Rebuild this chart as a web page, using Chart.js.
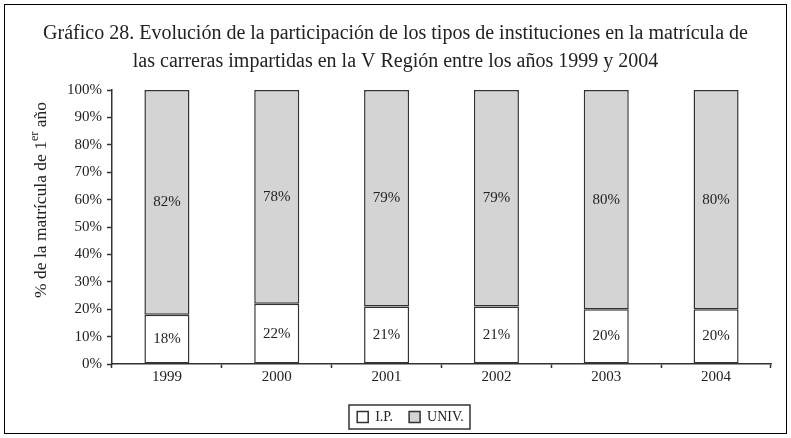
<!DOCTYPE html>
<html>
<head>
<meta charset="utf-8">
<script src="https://cdn.jsdelivr.net/npm/chart.js@4.4.1/dist/chart.umd.min.js"></script>
<style>
  body { margin: 0; background: #fff; }
  #wrap { position: relative; width: 791px; height: 438px; }
</style>
</head>
<body>
<div id="wrap"><canvas id="chart"></canvas></div>
<script>
const years = ["1999", "2000", "2001", "2002", "2003", "2004"];
const ipValues = [18, 22, 21, 21, 20, 20];
const univValues = [82, 78, 79, 79, 80, 80];
const titleLines = [
  "Gráfico 28. Evolución de la participación de los tipos de instituciones en la matrícula de",
  "las carreras impartidas en la V Región entre los años 1999 y 2004"
];

const serif = "'Liberation Serif', 'DejaVu Serif', serif";
const ink = "#222";

// nudge title and legend to where the original has them
const blockShift = {
  id: "blockShift",
  afterLayout(chart) {
    const lg = chart.legend;
    lg.left += 5; lg.right += 5;
    lg.top += 8; lg.bottom += 8;
    const tb = chart.titleBlock;
    tb.left -= 10; tb.right -= 10;
  }
};

// frame round the whole picture + box round the legend
const framePlugin = {
  id: "frame",
  afterDraw(chart) {
    const ctx = chart.ctx;
    ctx.save();
    ctx.strokeStyle = "#000";
    ctx.lineWidth = 1;
    ctx.strokeRect(4.5, 4.5, 782, 429);

    const boxes = chart.legend.legendHitBoxes;
    if (boxes && boxes.length) {
      let l = Infinity, t = Infinity, r = -Infinity, b = -Infinity;
      boxes.forEach((h) => {
        l = Math.min(l, h.left); t = Math.min(t, h.top);
        r = Math.max(r, h.left + h.width); b = Math.max(b, h.top + h.height);
      });
      ctx.strokeStyle = "#333";
      ctx.lineWidth = 1.5;
      ctx.strokeRect(Math.round(l - 8), Math.round(t - 5), Math.round(r - l + 14), Math.round(b - t + 10));
    }
    ctx.restore();
  }
};

// percent labels inside each segment
const valueLabels = {
  id: "valueLabels",
  afterDatasetsDraw(chart) {
    const ctx = chart.ctx;
    ctx.save();
    ctx.font = "15px " + serif;
    ctx.fillStyle = ink;
    ctx.textAlign = "center";
    ctx.textBaseline = "middle";
    chart.data.datasets.forEach((ds, i) => {
      chart.getDatasetMeta(i).data.forEach((bar, j) => {
        ctx.fillText(ds.data[j] + "%", bar.x, (bar.y + bar.base) / 2);
      });
    });
    ctx.restore();
  }
};

// rotated y title with the "er" superscript
const yTitle = {
  id: "yTitle",
  afterDraw(chart) {
    const ctx = chart.ctx;
    const parts = [["% de la matrícula de 1", 17.5, 0], ["er", 12, -6], [" año", 17.5, 0]];
    ctx.save();
    let total = 0;
    parts.forEach((p) => { ctx.font = p[1] + "px " + serif; total += ctx.measureText(p[0]).width; });
    ctx.translate(41, 200);
    ctx.rotate(-Math.PI / 2);
    ctx.fillStyle = ink;
    ctx.textBaseline = "middle";
    let x = -total / 2;
    parts.forEach((p) => {
      ctx.font = p[1] + "px " + serif;
      ctx.fillText(p[0], x, p[2]);
      x += ctx.measureText(p[0]).width;
    });
    ctx.restore();
  }
};

new Chart(document.getElementById("chart"), {
  type: "bar",
  data: {
    labels: years,
    datasets: [
      {
        label: "I.P.",
        data: ipValues,
        backgroundColor: "#ffffff",
        borderColor: "#333333",
        borderWidth: 1.5,
        borderSkipped: false
      },
      {
        label: "UNIV.",
        data: univValues,
        backgroundColor: "#d4d4d4",
        borderColor: "#333333",
        borderWidth: 1.5,
        borderSkipped: false
      }
    ]
  },
  options: {
    responsive: true,
    maintainAspectRatio: false,
    animation: false,
    devicePixelRatio: 1,
    layout: { padding: { left: 40, right: 20, top: 14, bottom: 12 } },
    categoryPercentage: 1,
    barPercentage: 0.41,
    plugins: {
      title: {
        display: true,
        text: titleLines,
        color: ink,
        font: { family: serif, size: 20, weight: "normal", lineHeight: 1.4 },
        padding: { top: 6, bottom: 14 }
      },
      legend: {
        position: "bottom",
        labels: {
          color: ink,
          font: { family: serif, size: 14 },
          boxWidth: 11,
          boxHeight: 11,
          padding: 16
        }
      },
      tooltip: { enabled: false }
    },
    scales: {
      x: {
        stacked: true,
        offset: true,
        grid: { display: true, drawOnChartArea: false, offset: true, tickLength: 4, tickWidth: 1.5, color: "#333" },
        border: { color: "#333", width: 1.5 },
        ticks: { color: ink, font: { family: serif, size: 15 }, padding: 0 }
      },
      y: {
        stacked: true,
        min: 0,
        max: 100,
        afterFit(scale) { scale.width = 72; },
        grid: { display: true, drawOnChartArea: false, tickLength: 5, tickWidth: 1.5, color: "#333" },
        border: { color: "#333", width: 1.5 },
        ticks: {
          stepSize: 10,
          color: ink,
          font: { family: serif, size: 15 },
          padding: 5,
          callback: (v) => v + "%"
        }
      }
    }
  },
  plugins: [blockShift, framePlugin, valueLabels, yTitle]
});
</script>
</body>
</html>
